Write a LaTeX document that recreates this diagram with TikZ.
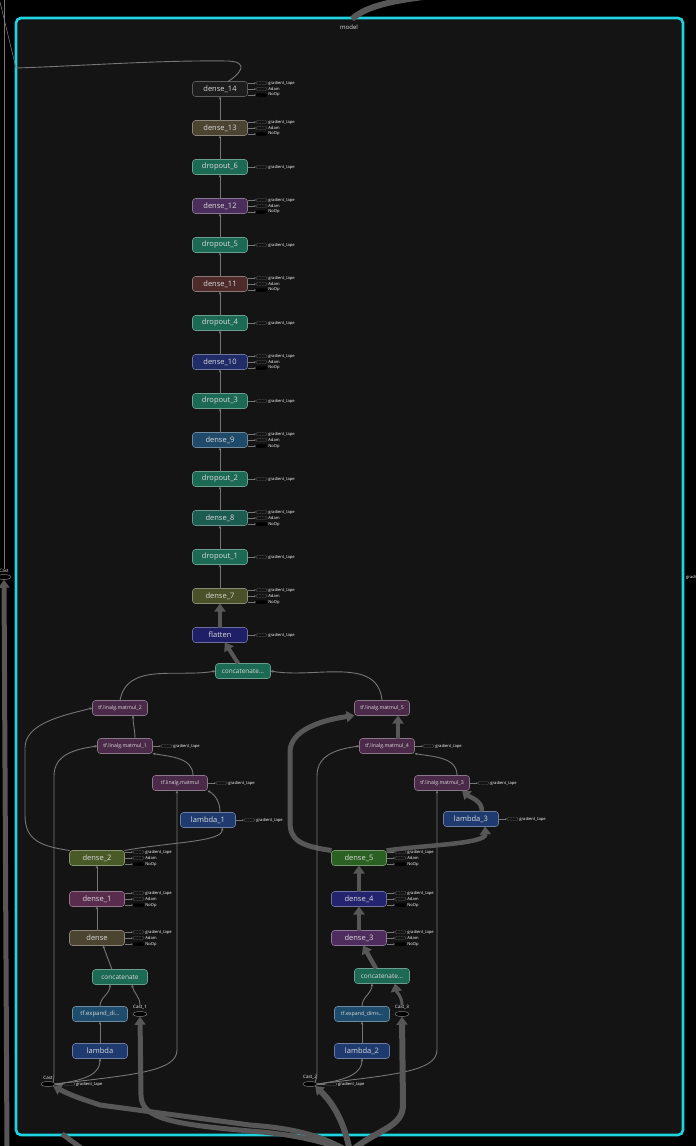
\documentclass[tikz,border=0pt]{standalone}
\usepackage{fontspec}
\setmainfont{Open Sans}
\usetikzlibrary{arrows.meta,positioning,calc,shapes.geometric}

\definecolor{ModelCyan}{HTML}{1FD3E0}
\definecolor{ModelFill}{HTML}{141414}
\definecolor{EdgeGrey}{HTML}{767676}
\definecolor{FlowGrey}{HTML}{575757}
\definecolor{LabelGrey}{HTML}{DADADA}
\definecolor{DimBorder}{HTML}{5C5C5C}
\definecolor{DropGreen}{HTML}{1C6A53}
\definecolor{DarkBox}{HTML}{1D1D1D}
\definecolor{OliveBrown}{HTML}{4B4431}
\definecolor{PlumA}{HTML}{4A2D5B}
\definecolor{RustBrown}{HTML}{4E2B2B}
\definecolor{NavyA}{HTML}{1F2C68}
\definecolor{SteelBlue}{HTML}{1F4A6A}
\definecolor{TealDark}{HTML}{1B5B50}
\definecolor{OliveGreen}{HTML}{4A5128}
\definecolor{IndigoBox}{HTML}{1F1F68}
\definecolor{MatPlum}{HTML}{4B2A49}
\definecolor{LamBlue}{HTML}{1E3A6F}
\definecolor{MossGreen}{HTML}{4A5A27}
\definecolor{Mulberry}{HTML}{592B4D}
\definecolor{LeafGreen}{HTML}{2A6022}
\definecolor{NavyB}{HTML}{24246E}
\definecolor{PlumB}{HTML}{4E2D5E}
\definecolor{ExpBlue}{HTML}{1E4C6D}

% three outputs of a trained layer
\newcommand{\tapeall}[1]{%
  \node[tapebox] (#1-g) at ($(#1.east)+(14,-6)$) {};
  \node[tapebox] (#1-a) at ($(#1.east)+(14,0)$) {};
  \node[tapebox, fill=black, draw=black] (#1-n) at ($(#1.east)+(14,6)$) {};
  \node[tapetext] at (#1-g.east) {gradient\_tape};
  \node[tapetext] at (#1-a.east) {Adam};
  \node[tapetext] at (#1-n.east) {NoOp};
  \foreach \k in {g,a,n} \draw[tapeedge] (#1.east |- #1-\k.west) -- (#1-\k.west);
}
% only the tape output
\newcommand{\tapeone}[1]{%
  \node[tapebox] (#1-g) at ($(#1.east)+(14,0)$) {};
  \node[tapetext] at (#1-g.east) {gradient\_tape};
  \draw[tapeedge] (#1.east) -- (#1-g.west);
}

\begin{document}
\begin{tikzpicture}[x=1pt, y=-1pt, node distance=24pt,
  op/.style={fill=#1, draw=#1!65!white, rounded corners=3pt, line width=0.6pt,
    minimum width=55pt, minimum height=15pt, inner sep=1pt, outer sep=0pt, text=LabelGrey,
    font=\fontsize{7.5}{9}\selectfont},
  mm/.style={op=#1, font=\fontsize{5.2}{6}\selectfont},
  castop/.style={ellipse, fill=black, draw=gray, line width=0.5pt,
    minimum width=14pt, minimum height=5pt, inner sep=0pt},
  casttext/.style={text=white, font=\fontsize{4.5}{5}\selectfont, inner sep=0.5pt},
  tapebox/.style={draw=EdgeGrey, dash pattern=on 1pt off 0.6pt, rounded corners=1pt,
    minimum width=11pt, minimum height=3pt, inner sep=0pt},
  tapetext/.style={anchor=west, text=white, font=\fontsize{4.1}{4.5}\selectfont, inner sep=1pt},
  tapeedge/.style={draw=EdgeGrey, line width=0.3pt, -{Stealth[length=1.5pt,width=1.5pt]}},
  wire/.style={draw=EdgeGrey, line width=0.9pt},
  flow/.style={draw=EdgeGrey, line width=0.9pt, -{Stealth[length=3pt,width=2.6pt]}},
  bigflow/.style={draw=FlowGrey, line width=#1, -{Triangle[length=8pt,width=11pt]}},
  bigflow/.default=4.5pt
]
  \useasboundingbox (0,0) rectangle (696,1146);
  \fill[black] (0,0) rectangle (696,1146);
  \clip (0,0) rectangle (696,1146);

  % model frame
  \draw[ModelCyan, line width=2.6pt, fill=ModelFill, rounded corners=5pt] (16,18) rectangle (683,1135);
  \node[text=LabelGrey!80, font=\fontsize{6}{7}\selectfont] (mname) at (349,27) {model};

  % main column
  \node[op=DarkBox, draw=DimBorder] (d14) at (220,89) {dense\_14};
  \node[op=OliveBrown, below=of d14] (d13) {dense\_13};
  \node[op=DropGreen, below=of d13] (do6) {dropout\_6};
  \node[op=PlumA, below=of do6] (d12) {dense\_12};
  \node[op=DropGreen, below=of d12] (do5) {dropout\_5};
  \node[op=RustBrown, below=of do5] (d11) {dense\_11};
  \node[op=DropGreen, below=of d11] (do4) {dropout\_4};
  \node[op=NavyA, below=of do4] (d10) {dense\_10};
  \node[op=DropGreen, below=of d10] (do3) {dropout\_3};
  \node[op=SteelBlue, below=of do3] (d9) {dense\_9};
  \node[op=DropGreen, below=of d9] (do2) {dropout\_2};
  \node[op=TealDark, below=of do2] (d8) {dense\_8};
  \node[op=DropGreen, below=of d8] (do1) {dropout\_1};
  \node[op=OliveGreen, below=of do1] (d7) {dense\_7};
  \node[op=IndigoBox, below=of d7] (flat) {flatten};
  \node[op=DropGreen, font=\fontsize{6.5}{8}\selectfont] (cat0) at (243,671) {concatenate...};

  % left branch
  \node[mm=MatPlum] (m2) at (120,708) {tf.linalg.matmul\_2};
  \node[mm=MatPlum] (m1) at (125,746) {tf.linalg.matmul\_1};
  \node[mm=MatPlum] (m0) at (180,783) {tf.linalg.matmul};
  \node[op=LamBlue] (l1) at (208,820) {lambda\_1};
  \node[op=MossGreen] (d2) at (97,858) {dense\_2};
  \node[op=Mulberry] (d1) at (97,899) {dense\_1};
  \node[op=OliveBrown] (dd) at (97,938) {dense};
  \node[op=DropGreen, font=\fontsize{6.5}{8}\selectfont] (cat1) at (120,977) {concatenate};
  \node[op=ExpBlue, font=\fontsize{6}{7}\selectfont] (ex1) at (100,1014) {tf.expand\_di...};
  \node[op=LamBlue] (lam) at (100,1051) {lambda};
  \node[castop] (cast1) at (140,1014) {};
  \node[casttext, above=1pt of cast1] (cast1-t) {Cast\_1};
  \node[castop] (cast) at (48,1084) {};
  \node[casttext, above=1pt of cast] (cast-t) {Cast};

  % right branch
  \node[mm=MatPlum] (m5) at (382,708) {tf.linalg.matmul\_5};
  \node[mm=MatPlum] (m4) at (387,746) {tf.linalg.matmul\_4};
  \node[mm=MatPlum] (m3) at (442,783) {tf.linalg.matmul\_3};
  \node[op=LamBlue] (l3) at (471,819) {lambda\_3};
  \node[op=LeafGreen] (d5) at (359,858) {dense\_5};
  \node[op=NavyB] (d4) at (359,899) {dense\_4};
  \node[op=PlumB] (d3) at (359,938) {dense\_3};
  \node[op=DropGreen, font=\fontsize{6.5}{8}\selectfont] (cat2) at (382,976) {concatenate...};
  \node[op=ExpBlue, font=\fontsize{5.3}{6}\selectfont] (ex2) at (362,1014) {tf.expand\_dims...};
  \node[op=LamBlue] (lam2) at (362,1051) {lambda\_2};
  \node[castop] (cast3) at (402,1014) {};
  \node[casttext, above=1pt of cast3] (cast3-t) {Cast\_3};
  \node[castop] (cast2) at (310,1084) {};
  \node[casttext, above=1pt of cast2] (cast2-t) {Cast\_2};

  % outside the frame
  \node[castop] (castout) at (4,577) {};
  \node[casttext, above=1pt of castout] (castout-t) {Cast};
  \node[tapetext] (portr) at (685,577) {gradient\_tape};
  \coordinate (topa) at (0,2);
  \coordinate (topb) at (4,0);
  \coordinate (topc) at (432,-4);
  \coordinate (mtop) at (352,19);
  \coordinate (modelin) at (16,68);
  \coordinate (botl) at (7,1150);
  \coordinate (mbl) at (62,1134);
  \coordinate (botc) at (84,1150);
  \coordinate (inp) at (350,1152);

  % side outputs
  \foreach \n in {d14,d13,d12,d11,d10,d9,d8,d7,d2,d1,dd,d5,d4,d3} {\tapeall{\n}}
  \foreach \n in {do6,do5,do4,do3,do2,do1,flat,m1,m0,l1,m4,m3,l3,cast,cast2} {\tapeone{\n}}

  % main column edges
  \foreach \lo/\hi in {d13/d14,do6/d13,d12/do6,do5/d12,d11/do5,do4/d11,d10/do4,do3/d10,
      d9/do3,do2/d9,d8/do2,do1/d8,d7/do1}
    \draw[flow] (\lo) -- (\hi);
  \draw[bigflow=4pt] (flat) -- (d7);
  \draw[bigflow=4pt] (cat0) -- (flat);
  \draw[wire] (d14.north) ++(8,0) .. controls (240,74) and (250,62) .. (228,61)
    .. controls (160,60) and (80,66) .. (modelin);
  \draw[wire, line width=0.6pt] (topa) -- (modelin);
  \draw[wire, line width=0.6pt] (castout-t) -- (topb);
  \draw[bigflow=5pt] (botl) -- (castout);
  \draw[FlowGrey, line width=6pt] (mtop) .. controls (366,6) and (395,0) .. (topc);
  \draw[FlowGrey, line width=5pt] (mbl) -- (botc);

  % left branch edges
  \draw[flow] (m2.north) to[out=80,in=190] (cat0.west);
  \draw[flow] ($(m1.north)+(10,0)$) to[out=90,in=-90] ($(m2.south)+(13,0)$);
  \draw[flow] (d2.north west) .. controls (40,846) and (25,840) .. (25,815) -- (25,748)
    .. controls (25,724) and (60,716) .. (m2.west);
  \draw[flow] (cast.north east) .. controls (54,1078) .. (54,1066) -- (54,776)
    .. controls (54,754) and (76,749) .. (m1.west);
  \draw[flow] ($(m0.north)+(13,0)$) to[out=90,in=-10] (m1.south east);
  \draw[flow] ($(l1.north)+(12,0)$) to[out=90,in=-30] (m0.south east);
  \draw[flow] (cast.east) .. controls (130,1075) and (177,1072) .. (177,1050)
    -- ($(m0.south)+(-3,0)$);
  \draw[flow] (d2.north east) .. controls (170,842) and (224,842) .. ($(l1.south)+(14,0)$);
  \draw[flow] (d1) -- (d2);
  \draw[flow] (dd) -- (d1);
  \draw[flow] ($(cat1.north)+(-8,0)$) -- ($(dd.south)+(6,0)$);
  \draw[flow] (ex1.north) to[out=90,in=-90] ($(cat1.south)+(-10,0)$);
  \draw[flow] (cast1-t.north) to[out=90,in=-80] ($(cat1.south)+(12,0)$);
  \draw[flow] (lam) -- (ex1);
  \draw[flow] (cast.east) .. controls (90,1080) and (100,1072) .. (lam.south);
  \draw[bigflow=5pt] (inp) .. controls (320,1140) and (290,1134) .. (250,1131)
    .. controls (170,1124) and (141,1118) .. (141,1095) -- (cast1.south);
  \draw[bigflow=5pt] (inp) .. controls (320,1134) and (290,1128) .. (250,1125)
    -- (100,1105) .. controls (85,1100) and (72,1096) .. (cast.south east);

  % right branch edges
  \draw[flow] (m5.north) to[out=95,in=-10] (cat0.east);
  \draw[bigflow=5pt] (d5.north west) .. controls (300,846) and (290,840) .. (290,822)
    -- (290,752) .. controls (290,730) and (322,720) .. (m5.south west);
  \draw[bigflow=4pt] ($(m4.north)+(11,0)$) to[out=90,in=-90] ($(m5.south)+(16,0)$);
  \draw[flow] (cast2.north east) .. controls (317,1078) .. (317,1066) -- (317,776)
    .. controls (317,754) and (338,749) .. (m4.west);
  \draw[flow] ($(m3.north)+(15,0)$) to[out=90,in=-10] (m4.south east);
  \draw[bigflow=4.5pt] ($(l3.north)+(11,0)$) to[out=90,in=-40] ($(m3.south)+(20,0)$);
  \draw[flow] (cast2.east) .. controls (390,1075) and (437,1072) .. (437,1050)
    -- ($(m3.south)+(-5,0)$);
  \draw[bigflow=4.5pt] (d5.north east) .. controls (425,845) and (486,844) .. ($(l3.south)+(14,0)$);
  \draw[bigflow=4.5pt] (d4) -- (d5);
  \draw[bigflow=4.5pt] (d3) -- (d4);
  \draw[bigflow=4.5pt] ($(cat2.north)+(-6,0)$) -- ($(d3.south)+(4,0)$);
  \draw[flow] (ex2.north) to[out=90,in=-90] ($(cat2.south)+(-10,0)$);
  \draw[bigflow=3pt] (cast3-t.north) to[out=90,in=-80] ($(cat2.south)+(13,0)$);
  \draw[flow] (lam2) -- (ex2);
  \draw[flow] (cast2.east) .. controls (350,1080) and (362,1072) .. (lam2.south);
  \draw[bigflow=6pt] (inp) .. controls (375,1130) and (403,1128) .. (403,1105) -- (cast3.south);
  \draw[bigflow=6pt] (inp) .. controls (345,1125) and (335,1105) .. (cast2.south east);
\end{tikzpicture}
\end{document}
